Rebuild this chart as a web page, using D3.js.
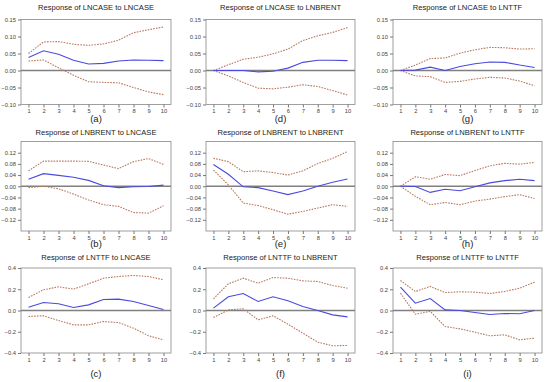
<!DOCTYPE html>
<html lang="en">
<head>
	<meta charset="UTF-8">
	<title>Impulse responses</title>
	<script src="https://cdn.jsdelivr.net/npm/d3@7"></script>
	<style>
		body{ margin:0; background:#fff; }
		svg{ display:block; font-family:"Liberation Sans", Arial, sans-serif; }
		.title{ font-size:7.6px; fill:#222; }
		.lab{ font-size:9.5px; fill:#222; }
		.tick text{ font-size:5.8px; fill:#444; }
		.tick line, .domain{ stroke:#777; }
	</style>
</head>
<body>
	<svg width="550" height="382"></svg>
	<script>
		var vars = ["LNCASE", "LNBRENT", "LNTTF"];
		var periods = [1,2,3,4,5,6,7,8,9,10];
		var letters = ["a","b","c","d","e","f","g","h","i"];

		// response of LNCASE
		var a_mid = [0.038,0.058,0.048,0.030,0.019,0.021,0.028,0.031,0.030,0.029];
		var a_up  = [0.050,0.084,0.085,0.077,0.074,0.078,0.089,0.111,0.120,0.128];
		var a_lo  = [0.028,0.031,0.008,-0.014,-0.033,-0.035,-0.036,-0.050,-0.063,-0.071];
		var d_mid = [0,0,0,-0.004,-0.002,0.007,0.024,0.030,0.030,0.029];
		var d_up  = [0,0.017,0.033,0.039,0.049,0.063,0.088,0.102,0.112,0.126];
		var d_lo  = [0,-0.016,-0.035,-0.052,-0.054,-0.049,-0.042,-0.047,-0.059,-0.072];
		var g_mid = [0,0.001,0.010,0,0.012,0.020,0.025,0.024,0.016,0.009];
		var g_up  = [0,0.016,0.035,0.037,0.051,0.061,0.068,0.067,0.063,0.064];
		var g_lo  = [0,-0.016,-0.018,-0.035,-0.032,-0.025,-0.020,-0.022,-0.031,-0.045];

		// response of LNBRENT
		var b_mid = [0.025,0.045,0.039,0.032,0.021,0.002,-0.005,-0.002,-0.001,0.004];
		var b_up  = [0.055,0.090,0.090,0.090,0.089,0.076,0.063,0.088,0.099,0.078];
		var b_lo  = [-0.005,0,-0.009,-0.028,-0.049,-0.066,-0.072,-0.094,-0.096,-0.070];
		var e_mid = [0.078,0.043,-0.002,-0.005,-0.017,-0.030,-0.017,0,0.014,0.026];
		var e_up  = [0.100,0.088,0.052,0.055,0.049,0.040,0.055,0.081,0.100,0.124];
		var e_lo  = [0.058,0.005,-0.060,-0.069,-0.084,-0.100,-0.090,-0.078,-0.066,-0.072];
		var h_mid = [0,-0.001,-0.022,-0.011,-0.016,-0.002,0.012,0.020,0.025,0.020];
		var h_up  = [0,0.034,0.025,0.042,0.038,0.056,0.073,0.082,0.079,0.085];
		var h_lo  = [0,-0.036,-0.066,-0.058,-0.066,-0.053,-0.046,-0.037,-0.030,-0.044];

		// response of LNTTF
		var c_mid = [0.031,0.075,0.063,0.028,0.053,0.104,0.107,0.085,0.047,0.009];
		var c_up  = [0.123,0.195,0.223,0.201,0.251,0.304,0.320,0.330,0.320,0.289];
		var c_lo  = [-0.056,-0.050,-0.094,-0.135,-0.135,-0.104,-0.113,-0.166,-0.238,-0.276];
		var f_mid = [0.022,0.129,0.160,0.085,0.129,0.091,0.038,0,-0.041,-0.060];
		var f_up  = [0.110,0.251,0.304,0.257,0.310,0.304,0.279,0.273,0.235,0.210];
		var f_lo  = [-0.066,0.006,0.016,-0.088,-0.050,-0.129,-0.213,-0.298,-0.332,-0.329];
		var i_mid = [0.220,0.069,0.113,0.006,0,-0.019,-0.038,-0.028,-0.031,0];
		var i_up  = [0.282,0.179,0.226,0.169,0.176,0.173,0.160,0.179,0.210,0.267];
		var i_lo  = [0.163,-0.035,-0.009,-0.151,-0.173,-0.204,-0.238,-0.229,-0.276,-0.260];

		var rowTicks = [
			[-0.10,-0.05,0,0.05,0.10,0.15],
			[-0.12,-0.08,-0.04,0,0.04,0.08,0.12],
			[-0.4,-0.2,0,0.2,0.4]
		];
		var rowDomains = [[-0.10,0.15],[-0.16,0.16],[-0.4,0.4]];
		var rowFormats = [".2f",".2f",".1f"];

		var panels = {
			a:[a_mid,a_up,a_lo], b:[b_mid,b_up,b_lo], c:[c_mid,c_up,c_lo],
			d:[d_mid,d_up,d_lo], e:[e_mid,e_up,e_lo], f:[f_mid,f_up,f_lo],
			g:[g_mid,g_up,g_lo], h:[h_mid,h_up,h_lo], i:[i_mid,i_up,i_lo]
		};

		// layout of the plot boxes
		var colX = [[21,171],[206,355],[393,542]];
		var rowY = [[19.5,104.5],[141.5,231],[268,353]];
		var titleY = [10,135,260];
		var labY = [122,247,377];

		var svg = d3.select("svg");

		for(var c=0;c<3;c++){
			for(var r=0;r<3;r++){
				drawPanel(c,r);
			}
		}

		function drawPanel(c,r){
			var key = letters[c*3+r];
			var data = panels[key];
			var x = d3.scaleLinear().domain([0.5,10.5]).range(colX[c]);
			var y = d3.scaleLinear().domain(rowDomains[r]).range([rowY[r][1],rowY[r][0]]);
			var g = svg.append("g");

			g.append("rect")
				.attr("x",colX[c][0]).attr("y",rowY[r][0])
				.attr("width",colX[c][1]-colX[c][0])
				.attr("height",rowY[r][1]-rowY[r][0])
				.attr("fill","none").attr("stroke","#888").attr("stroke-width",0.8);

			var ax = g.append("g")
				.attr("transform","translate(0,"+rowY[r][1]+")")
				.call(d3.axisBottom(x).tickValues(periods).tickSize(3).tickSizeOuter(0).tickPadding(1.5));
			var ay = g.append("g")
				.attr("transform","translate("+colX[c][0]+",0)")
				.call(d3.axisLeft(y).tickValues(rowTicks[r]).tickFormat(d3.format(rowFormats[r])).tickSize(3).tickSizeOuter(0).tickPadding(2));
			ax.select(".domain").remove();
			ay.select(".domain").remove();

			g.append("line")
				.attr("x1",colX[c][0]).attr("x2",colX[c][1])
				.attr("y1",y(0)).attr("y2",y(0))
				.attr("stroke","#808080").attr("stroke-width",1.6);

			var line = d3.line()
				.x(function(d,i){ return x(periods[i]); })
				.y(function(d){ return y(d); });

			g.append("path").datum(data[1]).attr("d",line)
				.attr("fill","none").attr("stroke","#b9785e").attr("stroke-width",1.1)
				.attr("stroke-dasharray","1.6,1.2");
			g.append("path").datum(data[2]).attr("d",line)
				.attr("fill","none").attr("stroke","#b9785e").attr("stroke-width",1.1)
				.attr("stroke-dasharray","1.6,1.2");
			g.append("path").datum(data[0]).attr("d",line)
				.attr("fill","none").attr("stroke","#4a4ae0").attr("stroke-width",1.1);

			var cx = (colX[c][0]+colX[c][1])/2;
			g.append("text").attr("class","title")
				.attr("x",cx).attr("y",titleY[r]).attr("text-anchor","middle")
				.text("Response of "+vars[r]+" to "+vars[c]);
			g.append("text").attr("class","lab")
				.attr("x",cx).attr("y",labY[r]).attr("text-anchor","middle")
				.text("("+key+")");
		}
	</script>
</body>
</html>
